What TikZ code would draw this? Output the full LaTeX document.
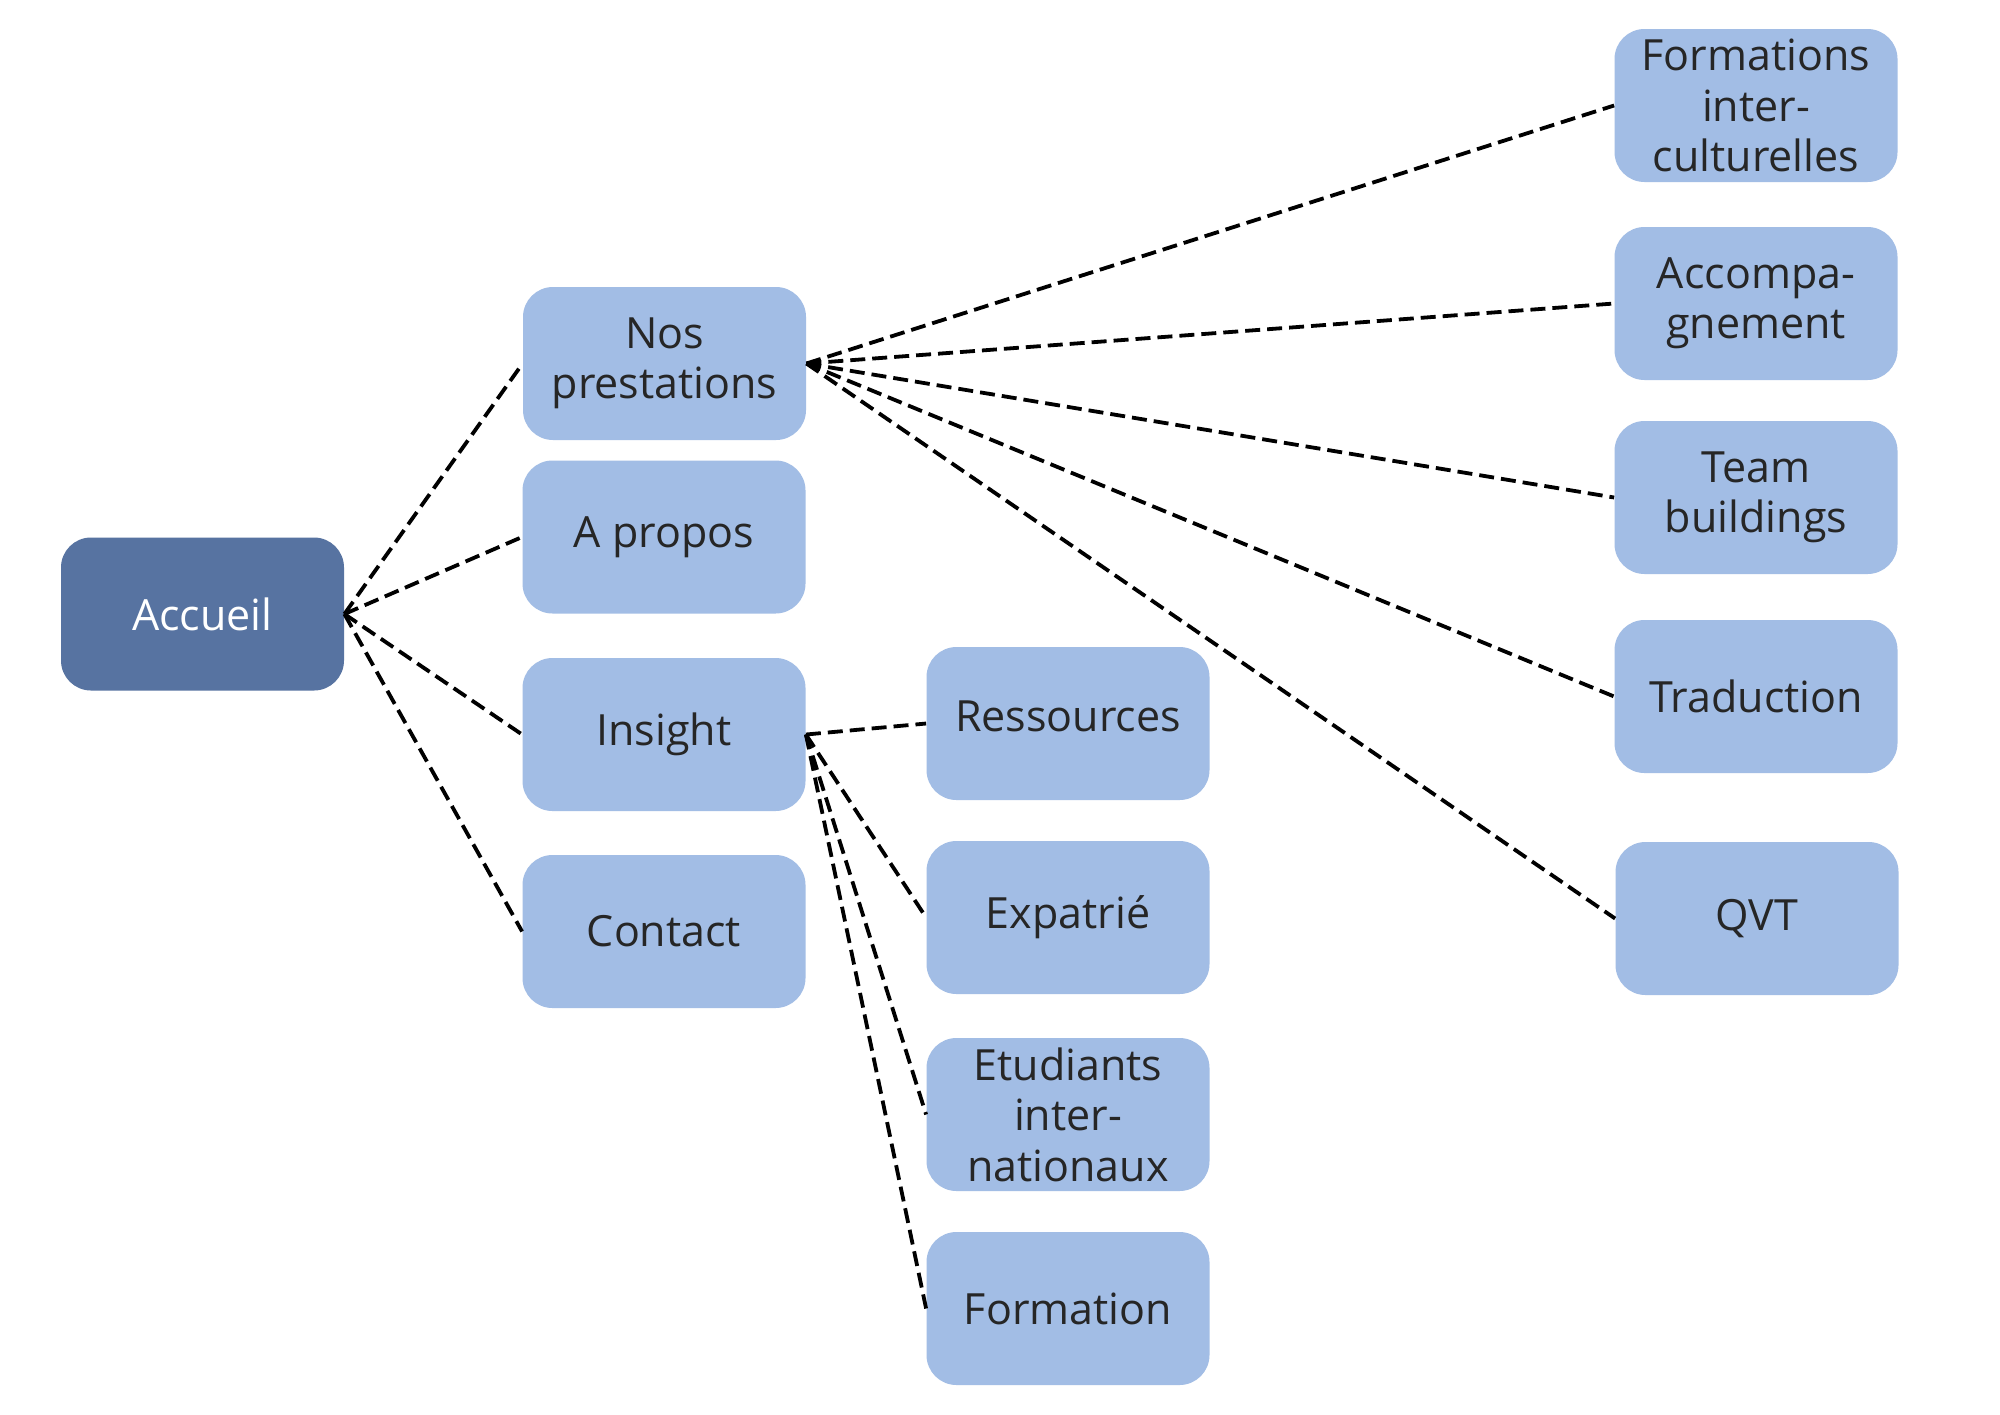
\documentclass[tikz,border=0pt]{standalone}
\usepackage{fontspec}
\setmainfont{Open Sans}
\definecolor{lightbox}{HTML}{A2BDE5}
\definecolor{darkbox}{HTML}{5773A1}
\definecolor{txt}{HTML}{262626}
\begin{document}
\begin{tikzpicture}[x=0.5pt,y=-0.5pt,
  box/.style={rounded corners=15pt, minimum width=141.5pt, minimum height=76.5pt,
    inner sep=0pt, align=center, text=txt, fill=lightbox,
    font=\fontsize{21.5}{25.2}\selectfont},
  rootbox/.style={box, fill=darkbox, text=white},
  link/.style={draw=black, line width=1.9pt, dash pattern=on 7.5pt off 3.5pt}]
\useasboundingbox[fill=white] (0,0) rectangle (2000,1414);
\node[rootbox] (acc) at (202.5,614) {Accueil};
\node[box] (nos) at (664.5,363.5) {Nos\\prestations};
\node[box] (apr) at (664,537) {A propos};
\node[box] (ins) at (664,734.5) {Insight};
\node[box] (con) at (664,931.5) {Contact};
\node[box] (res) at (1068,723.5) {\raisebox{3.5pt}[\height][\depth]{Ressources}};
\node[box] (exp) at (1068,917.5) {Expatrié};
\node[box] (etu) at (1068,1114.5) {Etudiants\\inter-\\nationaux};
\node[box] (for) at (1068,1308.5) {Formation};
\node[box] (fic) at (1756,105.5) {Formations\\inter-\\culturelles};
\node[box] (acp) at (1756,303.5) {Accompa-\\gnement};
\node[box] (tea) at (1756,497.5) {Team\\buildings};
\node[box] (tra) at (1756,696.5) {Traduction};
\node[box] (qvt) at (1757,918.5) {QVT};
\foreach \c in {nos,apr,ins,con} \draw[link] (acc.east) -- (\c.west);
\foreach \c in {fic,acp,tea,tra,qvt} \draw[link] (nos.east) -- (\c.west);
\foreach \c in {res,exp,etu,for} \draw[link] (ins.east) -- (\c.west);
\end{tikzpicture}
\end{document}
